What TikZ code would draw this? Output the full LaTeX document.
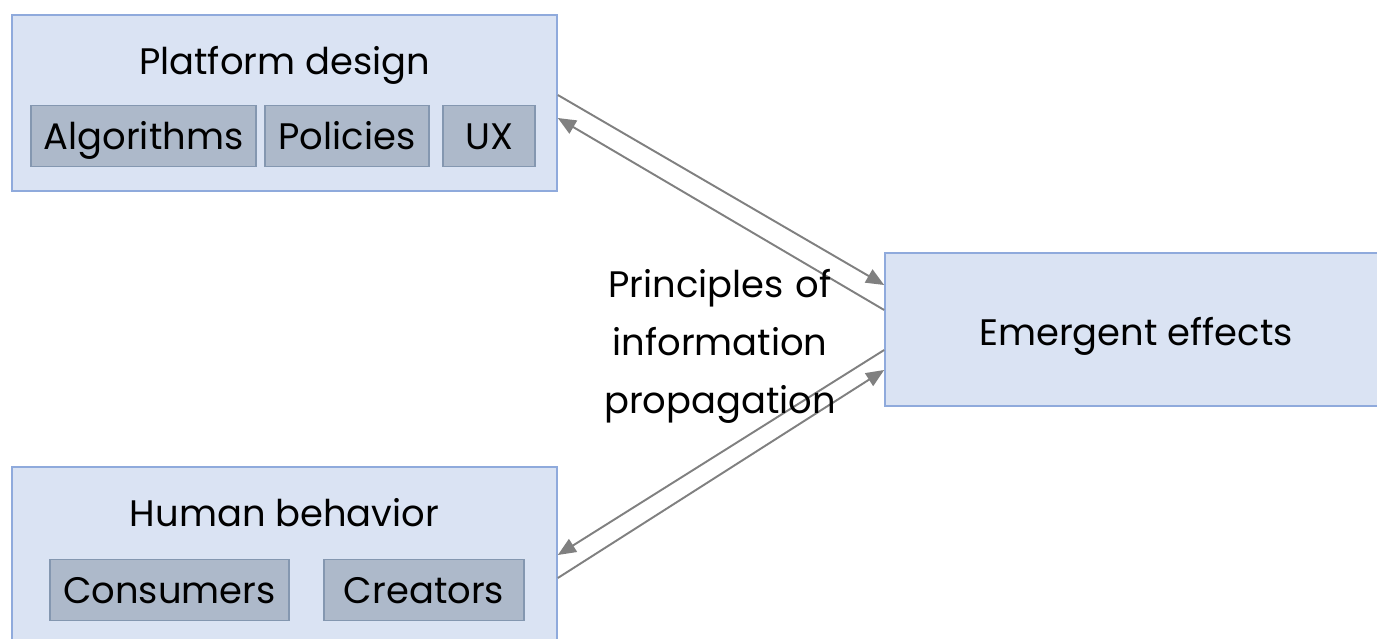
\documentclass[tikz,border=0pt]{standalone}
\usepackage{fontspec}
\setmainfont{Poppins}
\usetikzlibrary{arrows.meta,positioning}

\definecolor{boxfill}{HTML}{DAE3F3}
\definecolor{boxline}{HTML}{8FAADC}
\definecolor{subfill}{HTML}{ADB9CA}
\definecolor{subline}{HTML}{8497B0}
\definecolor{arrowgray}{HTML}{808080}

\tikzset{
	bigbox/.style={draw=boxline, fill=boxfill, line width=1pt, inner sep=0pt},
	subbox/.style={draw=subline, fill=subfill, line width=1pt, inner sep=0pt,
		minimum height=1.22cm, text height=19pt, text depth=4.2pt,
		font=\fontsize{21}{24}\selectfont},
	title/.style={font=\fontsize{21}{24}\selectfont, text height=19pt, text depth=4.2pt},
	link/.style={draw=arrowgray, line width=1.1pt,
		-{Triangle[length=0.36cm,width=0.3cm]}}
}

\begin{document}
\begin{tikzpicture}[x=0.02cm,y=-0.02cm]
\useasboundingbox (0,0) rectangle (1377,639);

% the three main boxes
\node[bigbox, minimum width=10.9cm, minimum height=3.52cm] (platform) at (284.5,103) {};
\node[bigbox, minimum width=10.9cm, minimum height=3.66cm] (human) at (284.5,558.5) {};
\node[bigbox, minimum width=10.1cm, minimum height=3.06cm] (emergent) at (1137.5,329.5) {};

% titles
\node[title] (platformtitle) at (284.5,61) {Platform design};
\node[title] (humantitle) at (284.5,513) {Human behavior};
\node[title] at (1136,332) {Emergent effects};

% parts of each box
\node[subbox, minimum width=4.5cm] (algorithms) at (143.5,136) {Algorithms};
\node[subbox, minimum width=3.28cm] (policies) at (347,136) {Policies};
\node[subbox, minimum width=1.84cm] (ux) at (489,136) {UX};
\node[subbox, minimum width=4.78cm] (consumers) at (169.5,590) {Consumers};
\node[subbox, minimum width=4cm] (creators) at (424,590) {Creators};

% arrows between the boxes
\draw[link] ([yshift=0.16cm]platform.east) -- ([yshift=0.89cm]emergent.west);
\draw[link] ([yshift=0.39cm]emergent.west) -- ([yshift=-0.30cm]platform.east);
\draw[link] ([yshift=-0.41cm]emergent.west) -- ([yshift=0.07cm]human.east);
\draw[link] ([yshift=-0.39cm]human.east) -- ([yshift=-0.81cm]emergent.west);

% label in the middle
\node[align=center, text width=6cm, font=\fontsize{21}{33}\selectfont]
	(principles) at (720,346) {Principles of\\information\\propagation};
\end{tikzpicture}
\end{document}
